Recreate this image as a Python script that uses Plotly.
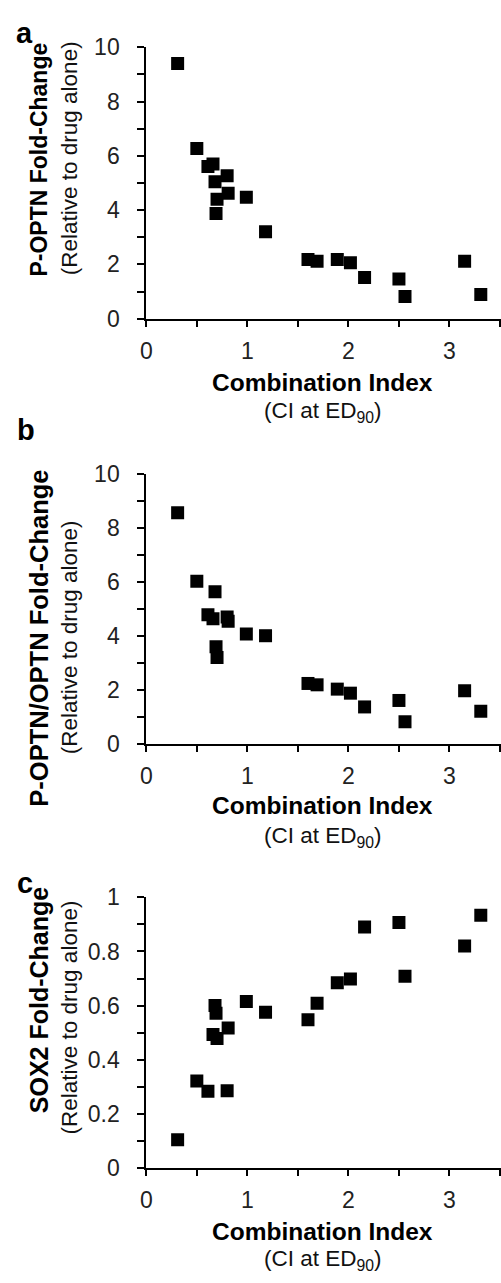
import plotly.graph_objects as go

# ---------------- data ----------------
ci = [0.31, 0.50, 0.61, 0.66, 0.68, 0.69, 0.70, 0.80, 0.81, 0.99,
      1.18, 1.60, 1.69, 1.89, 2.02, 2.16, 2.50, 2.56, 3.15, 3.31]
p_optn = [9.40, 6.27, 5.61, 5.70, 5.05, 3.88, 4.40, 5.27, 4.62, 4.47,
          3.20, 2.18, 2.12, 2.18, 2.06, 1.52, 1.46, 0.82, 2.12, 0.89]
p_optn_ratio = [8.57, 6.03, 4.79, 4.64, 5.64, 3.60, 3.20, 4.70, 4.55, 4.07,
                4.01, 2.24, 2.19, 2.03, 1.88, 1.37, 1.61, 0.82, 1.97, 1.21]
sox2 = [0.104, 0.321, 0.283, 0.493, 0.600, 0.572, 0.478, 0.285, 0.517, 0.615,
        0.575, 0.548, 0.609, 0.684, 0.698, 0.891, 0.907, 0.708, 0.820, 0.934]

panel_letters = ["a", "b", "c"]
y_titles = ["P-OPTN Fold-Change", "P-OPTN/OPTN Fold-Change", "SOX2 Fold-Change"]
y_subtitle = "(Relative to drug alone)"
x_title = "Combination Index"
x_subtitle = "(CI at ED<sub>90</sub>)"
y_ranges = [[0, 10], [0, 10], [0, 1]]
y_dticks = [2, 2, 0.2]
x_range = [0, 3.51]

# ---------------- layout helpers ----------------
W, H = 501, 1283
FONT = "Liberation Sans, Arial, sans-serif"


def fx(px):
    return px / W


def fy(py):
    return 1 - py / H


# pixel positions of each panel (top, bottom of plotting area)
panel_px = [(35, 312), (470.7, 746), (902.7, 1178.7)]
letter_pos = [(19, 20), (20, 426), (19, 888)]
ytitle_y = [150, 638, 1007]
ytitle_size = [23, 25.5, 25]
ysub_y = [148, 637, 1025]
xtitle_y = [377, 809, 1244]
xsub_y = [407, 841, 1273]

fig = go.Figure()
annotations = []
layout = {}
for i, ys in enumerate([p_optn, p_optn_ratio, sox2]):
    n = "" if i == 0 else str(i + 1)
    fig.add_trace(go.Scatter(
        x=ci, y=ys, mode="markers",
        marker=dict(symbol="square", size=13, color="black", line=dict(width=0)),
        xaxis="x" + n, yaxis="y" + n, showlegend=False, hoverinfo="skip"))
    top, bot = panel_px[i]
    layout["xaxis" + n] = dict(
        domain=[fx(142), 1.0], range=x_range, anchor="y" + n,
        tickmode="linear", tick0=0, dtick=1,
        ticks="outside", ticklen=6, tickwidth=1.5, tickcolor="black",
        minor=dict(dtick=0.5, ticks="outside", ticklen=6, tickwidth=1.5, tickcolor="black"),
        showline=True, linecolor="black", linewidth=2,
        showgrid=False, zeroline=False,
        tickfont=dict(family=FONT, size=23, color="#222"),
        ticklabelstandoff=5,
    )
    layout["yaxis" + n] = dict(
        domain=[fy(bot), fy(top)], range=y_ranges[i], anchor="x" + n,
        tickmode="linear", tick0=0, dtick=y_dticks[i],
        ticks="outside", ticklen=7, tickwidth=1.5, tickcolor="black",
        minor=dict(dtick=y_dticks[i] / 2, ticks="outside", ticklen=7, tickwidth=1.5, tickcolor="black"),
        showline=True, linecolor="black", linewidth=2,
        showgrid=False, zeroline=False,
        tickfont=dict(family=FONT, size=23, color="#222"),
        ticklabelstandoff=13,
    )
    lx, ly = letter_pos[i]
    annotations.append(dict(text="<b>%s</b>" % panel_letters[i], x=fx(lx), y=fy(ly),
                            xref="paper", yref="paper", showarrow=False,
                            xanchor="center", yanchor="middle",
                            font=dict(family=FONT, size=29, color="black")))
    annotations.append(dict(text="<b>%s</b>" % y_titles[i], x=fx(33), y=fy(ytitle_y[i]),
                            xref="paper", yref="paper", showarrow=False, textangle=-90,
                            xanchor="center", yanchor="middle",
                            font=dict(family=FONT, size=ytitle_size[i], color="black")))
    annotations.append(dict(text=y_subtitle, x=fx(64), y=fy(ysub_y[i]),
                            xref="paper", yref="paper", showarrow=False, textangle=-90,
                            xanchor="center", yanchor="middle",
                            font=dict(family=FONT, size=22.5, color="#111")))
    annotations.append(dict(text="<b>%s</b>" % x_title, x=fx(320.5), y=fy(xtitle_y[i]),
                            xref="paper", yref="paper", showarrow=False,
                            xanchor="center", yanchor="middle",
                            font=dict(family=FONT, size=24.5, color="black")))
    annotations.append(dict(text=x_subtitle, x=fx(320.5), y=fy(xsub_y[i]),
                            xref="paper", yref="paper", showarrow=False,
                            xanchor="center", yanchor="middle",
                            font=dict(family=FONT, size=22.5, color="#111")))

fig.update_layout(
    width=W, height=H,
    margin=dict(l=0, r=0, t=0, b=0),
    paper_bgcolor="white", plot_bgcolor="white",
    annotations=annotations,
    **layout,
)
fig.write_html("out.html")
